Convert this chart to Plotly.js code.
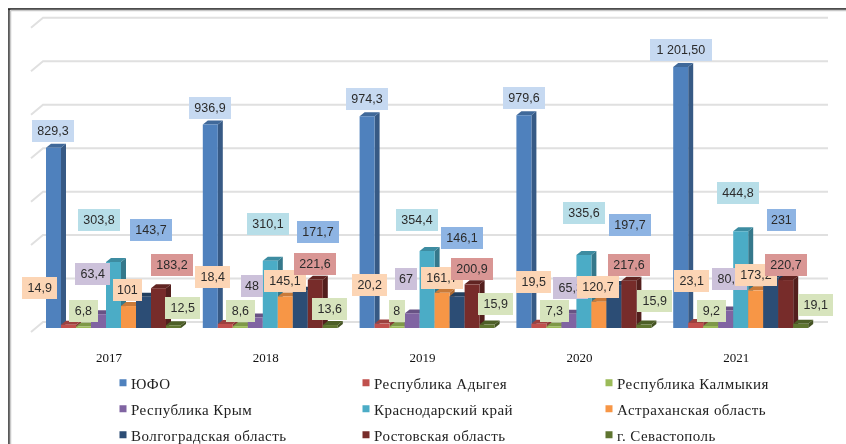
<!DOCTYPE html>
<html><head><meta charset="utf-8">
<script src="https://cdn.plot.ly/plotly-3.0.1.min.js"></script>
<style>html,body{margin:0;padding:0;background:#fff}#chart{width:846px;height:444px;filter:blur(.35px)}
#chart text[class^="legend"]{letter-spacing:.45px!important;transform:translateX(-12px)!important}</style>
</head><body><div id="chart"></div>
<script>
const years=[2017,2018,2019,2020,2021];
const seriesNames=['ЮФО','Республика Адыгея','Республика Калмыкия','Республика Крым','Краснодарский край','Астраханская область','Волгоградская область','Ростовская область','г. Севастополь'];
const yufo=[829.3,936.9,974.3,979.6,1201.5];
const adygea=[14.9,18.4,20.2,19.5,23.1];
const kalmykia=[6.8,8.6,8,7.3,9.2];
const crimea=[63.4,48,67,65.3,80.3];
const krasnodar=[303.8,310.1,354.4,335.6,444.8];
const astrakhan=[101,145.1,161.7,120.7,173.2];
const volgograd=[143.7,171.7,146.1,197.7,231];
const rostov=[183.2,221.6,200.9,217.6,220.7];
const sevastopol=[12.5,13.6,15.9,15.9,19.1];
const seriesValues=[yufo,adygea,kalmykia,crimea,krasnodar,astrakhan,volgograd,rostov,sevastopol];
const gridValues=[0,200,400,600,800,1000,1200,1400];

const frontColors=['#4f81bd','#c0504d','#9bbb59','#8064a2','#4bacc6','#f79646','#2c4d75','#772c2a','#5f7530'];
const sideColors=['#375a85','#863836','#6d833e','#5a4671','#35788b','#ad6931','#1f3652','#531f1d','#435222'];
const topColors=['#40699a','#9c413f','#7e9848','#685284','#3d8ca1','#c97a39','#24405f','#612422','#4d5f27'];
const labelFills=['#c6d9f1','#fcd5b5','#d7e4bd','#ccc1da','#b7dee8','#fcd5b5','#8eb4e3','#d99694','#d7e4bd'];

// label box centres in page pixels (hand placed in the original)
const labelCentres=[
 [[53,131],[210,108],[367,99],[524,98],[681,50]],
 [[39,288],[212,277],[369,285],[533,282],[691,281]],
 [[83,311],[240,311],[397,311],[554,311],[711,311]],
 [[92,274],[252,286],[406,279],[570,288],[729,279]],
 [[99,220],[268,224],[417,220],[584,213],[738,193]],
 [[128,290],[285,281],[442,278],[598,287],[756,275]],
 [[151,230],[318,232],[462,238],[630,225],[782,220]],
 [[172,265],[315,264],[472,269],[629,265],[786,265]],
 [[183,308],[330,309],[496,304],[655,301],[816,305]]
];
const legendCols=[103,346,589], legendRows=[383,409,435];

// frame
const W=846,H=444, plotL=25,plotR=835,plotT=10,plotB=340;
const plotW=plotR-plotL, plotH=plotB-plotT;
const pxYear=156.8, firstCentre=113.5, base=328, pxUnit=0.21725;
const xRange=[2017+(plotL-firstCentre)/pxYear,2017+(plotR-firstCentre)/pxYear];
const yRange=[(base-plotB)/pxUnit,(base-plotT)/pxUnit];
const X=px=>2017+(px-firstCentre)/pxYear;
const xPix=x=>firstCentre+(x-2017)*pxYear;
const yPix=v=>base-v*pxUnit;
const paperX=px=>(px-plotL)/plotW, paperY=py=>(plotB-py)/plotH;
const du=1/pxYear, dv=1/pxUnit;
const barGap=0.139, barW=(1-barGap)/9, depthX=5*du, depthY=4*dv;

const shapes=[];
// frame lines
const frameLine=(x0,y0,x1,y1,color)=>shapes.push({type:'line',xref:'paper',yref:'paper',layer:'below',
  x0:paperX(x0),x1:paperX(x1),y0:paperY(y0),y1:paperY(y1),line:{color:color,width:1.5}});
frameLine(8,9,W,9,'#111');
frameLine(9,9,9,H,'#222');
frameLine(10.5,10.5,10.5,H,'#c8c8c8');
frameLine(10.5,10.5,W,10.5,'#c8c8c8');
// back wall gridlines, lifted behind the bars
gridValues.forEach(g=>{
  const yBack=g+6*dv, yFront=g-4*dv;
  shapes.push({type:'path',xref:'x',yref:'y',layer:'below',
    path:`M${X(31)},${yFront} L${X(43)},${yBack} L${X(828)},${yBack}`,
    line:{color:'#e0e0e0',width:2}});
});
// depth faces of every bar
seriesValues.forEach((vals,s)=>{
  vals.forEach((v,i)=>{
    const x0=years[i]-(1-barGap)/2+s*barW, x1=x0+barW;
    shapes.push({type:'path',xref:'x',yref:'y',layer:'below',line:{width:0},fillcolor:sideColors[s],
      path:`M${x1},0 L${x1+depthX},${depthY} L${x1+depthX},${v+depthY} L${x1},${v} Z`});
    shapes.push({type:'path',xref:'x',yref:'y',layer:'below',line:{width:0},fillcolor:topColors[s],
      path:`M${x0},${v} L${x1},${v} L${x1+depthX},${v+depthY} L${x0+depthX},${v+depthY} Z`});
  });
});

const fmt=v=>{
  if(v>=1000){const t=Math.floor(v/1000);return t+' '+(v-t*1000).toFixed(2).replace('.',',');}
  return String(v).replace('.',',');
};
const annotations=[];
seriesValues.forEach((vals,s)=>{
  vals.forEach((v,i)=>{
    const x=years[i]-(1-barGap)/2+(s+0.5)*barW, txt=fmt(v), c=labelCentres[s][i];
    annotations.push({x:x,y:v,xref:'x',yref:'y',text:txt,showarrow:false,xanchor:'center',yanchor:'middle',
      xshift:c[0]-xPix(x),yshift:yPix(v)-c[1],
      bgcolor:labelFills[s],borderpad:0,borderwidth:0,width:9+txt.length*6.6,height:22,
      font:{family:'"Liberation Sans",Arial,sans-serif',size:12.5,color:'#2b2b2b'}});
  });
});

const traces=seriesValues.map((vals,s)=>({type:'bar',name:seriesNames[s],x:years,y:vals,
  marker:{color:frontColors[s],line:{width:0}},showlegend:false,hoverinfo:'skip'}));
// legend keys: small square swatches as in the original
seriesNames.forEach((n,s)=>traces.push({type:'scatter',mode:'markers',name:n,x:[null],y:[null],
  marker:{symbol:'square',size:7,color:frontColors[s]},legend:s?'legend'+(s+1):'legend',hoverinfo:'skip'}));

const layout={width:W,height:H,margin:{l:plotL,r:W-plotR,t:plotT,b:H-plotB,pad:0,autoexpand:false},
  paper_bgcolor:'#fff',plot_bgcolor:'rgba(0,0,0,0)',
  barmode:'group',bargap:barGap,bargroupgap:0,showlegend:true,
  xaxis:{type:'linear',range:xRange,tickvals:years.map(y=>y-4.5/pxYear),ticktext:years.map(String),tickangle:0,
    showgrid:false,zeroline:false,showline:false,ticks:'outside',ticklen:5,tickcolor:'rgba(0,0,0,0)',
    tickfont:{family:'"Liberation Serif",serif',size:13,color:'#111'}},
  yaxis:{range:yRange,visible:false,showgrid:false,zeroline:false},
  shapes:shapes,annotations:annotations};
seriesNames.forEach((n,s)=>{
  layout[s?'legend'+(s+1):'legend']={xanchor:'left',yanchor:'middle',
    x:paperX(legendCols[s%3]),y:paperY(legendRows[Math.floor(s/3)]),bgcolor:'rgba(0,0,0,0)',borderwidth:0,
    font:{family:'"Liberation Serif",serif',size:15,color:'#222'}};
});
Plotly.newPlot('chart',traces,layout,{displayModeBar:false,staticPlot:true});
</script></body></html>
